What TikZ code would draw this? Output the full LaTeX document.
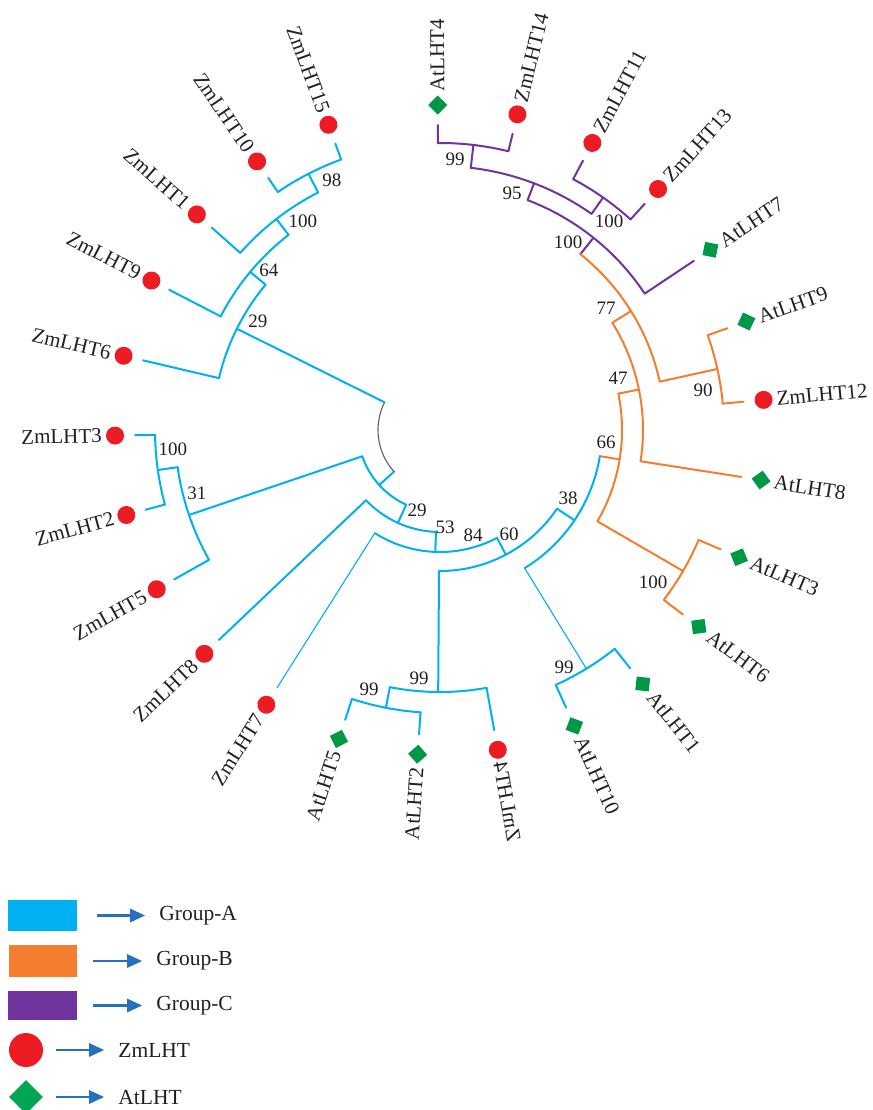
\documentclass[tikz,border=0pt]{standalone}
\usepackage{fontspec}
\setmainfont{Liberation Serif}
\usepackage{xcolor}
\definecolor{grpA}{RGB}{0,176,240}
\definecolor{grpB}{RGB}{244,125,48}
\definecolor{grpC}{RGB}{112,52,156}
\definecolor{zmred}{RGB}{237,28,36}
\definecolor{atgreen}{RGB}{0,152,70}
\definecolor{leggreen}{RGB}{0,166,81}
\definecolor{arrowblue}{RGB}{38,112,190}
\definecolor{rootgray}{RGB}{95,95,95}
\definecolor{ink}{RGB}{35,31,32}
\usepackage{tikz}
\usetikzlibrary{
    shapes.geometric,
    arrows.meta,
    positioning
}
\tikzstyle{lineA} = [draw=grpA, line width=2pt, line cap=round, line join=round]
\tikzstyle{thinA} = [draw=grpA, line width=1.1pt, line cap=round]
\tikzstyle{lineB} = [draw=grpB, line width=2pt, line cap=round, line join=round]
\tikzstyle{lineC} = [draw=grpC, line width=2pt, line cap=round, line join=round]
\tikzstyle{rootline} = [draw=rootgray, line width=1.1pt]
\tikzstyle{zmmark} = [
    circle,
    fill=zmred,
    minimum size=18pt,
    inner sep=0pt
]
\tikzstyle{atmark} = [
    rectangle,
    fill=atgreen,
    minimum size=13.5pt,
    inner sep=0pt
]
\tikzstyle{leaflabel} = [
    text=ink,
    font=\fontsize{21}{23}\selectfont,
    inner sep=1pt
]
\tikzstyle{boot} = [
    text=ink,
    font=\fontsize{19}{20}\selectfont,
    inner sep=0pt
]
\tikzstyle{swatch} = [
    rectangle,
    inner sep=0pt
]
\tikzstyle{legtext} = [
    text=ink,
    font=\fontsize{21.5}{24}\selectfont,
    inner sep=0pt
]
\tikzstyle{legarrow} = [
    draw=arrowblue,
    line width=2.8pt,
    -{Triangle[length=15pt,width=13pt]}
]

% leaf: name, angle, parent radius, line style, marker, text
\newcommand{\leafR}[6]{%
    \draw[#4] (#2:#3) -- (#2:305);
    \node (m#1) [#5, rotate=#2+45] at (#2:325) {};
    \node (t#1) [leaflabel, rotate=#2, anchor=west] at (#2:337) {#6};
}
\newcommand{\leafL}[6]{%
    \draw[#4] (#2:#3) -- (#2:305);
    \node (m#1) [#5, rotate=#2+45] at (#2:325) {};
    \node (t#1) [leaflabel, rotate=#2+180, anchor=east] at (#2:337) {#6};
}
% clade: style, angle, parent radius, radius, first child, last child
\newcommand{\clade}[6]{%
    \draw[#1] (#2:#3) -- (#2:#4);
    \draw[#1] (#5:#4) arc[start angle=#5, end angle=#6, radius=#4pt];
}

\begin{document}
\begin{tikzpicture}[x=1pt, y=1pt]

\useasboundingbox (-440,-680) rectangle (432,430);

% group C
\clade{lineC}{83.31}{264}{287}{90.40}{76.22}
\clade{lineC}{54.95}{264}{284}{62.04}{47.86}
\clade{lineC}{69.13}{246}{264}{83.31}{54.95}
\clade{lineC}{51.40}{225}{246}{69.13}{33.68}

% group B
\clade{lineB}{12.41}{225}{284}{19.50}{5.32}
\clade{lineB}{31.90}{203}{225}{51.40}{12.41}
\clade{lineB}{11.52}{182}{203}{31.90}{-8.86}
\clade{lineB}{-30.13}{182}{281}{-23.04}{-37.22}
\clade{lineB}{-9.30}{162}{182}{11.52}{-30.13}

% group A
\draw[thinA] (-58.49:162) -- (-58.49:280);
\draw[lineA] (-51.40:280) arc[start angle=-51.40, end angle=-65.58, radius=280pt];
\clade{lineA}{-33.90}{141}{162}{-9.30}{-58.49}
\clade{lineA}{-101.03}{262}{283}{-93.94}{-108.12}
\clade{lineA}{-90.40}{141}{262}{-79.76}{-101.03}
\clade{lineA}{-62.15}{122}{141}{-33.90}{-90.40}
\clade{lineA}{-92.23}{102}{122}{-122.30}{-62.15}
\clade{lineA}{-114.35}{82}{102}{-136.48}{-92.23}
\clade{lineA}{-171.93}{265}{285}{-164.84}{-179.02}
\clade{lineA}{-161.30}{82}{265}{-171.93}{-150.66}
\clade{lineA}{-137.83}{62}{82}{-161.30}{-114.35}
\clade{lineA}{-242.83}{267}{288}{-235.74}{-249.92}
\clade{lineA}{-232.20}{247}{267}{-221.56}{-242.83}
\clade{lineA}{-219.79}{227}{247}{-207.38}{-232.20}
\clade{lineA}{-206.50}{62}{227}{-193.20}{-219.79}

% root
\draw[rootline] (-206.50:62) arc[start angle=-206.50, end angle=-137.83, radius=62pt];

\leafR{AtLHT4}{90.40}{287}{lineC}{atmark}{AtLHT4}
\leafR{ZmLHT14}{76.22}{287}{lineC}{zmmark}{ZmLHT14}
\leafR{ZmLHT11}{62.04}{284}{lineC}{zmmark}{ZmLHT11}
\leafR{ZmLHT13}{47.86}{284}{lineC}{zmmark}{ZmLHT13}
\leafR{AtLHT7}{33.68}{246}{lineC}{atmark}{AtLHT7}
\leafR{AtLHT9}{19.50}{284}{lineB}{atmark}{AtLHT9}
\leafR{ZmLHT12}{5.32}{284}{lineB}{zmmark}{ZmLHT12}
\leafR{AtLHT8}{-8.86}{203}{lineB}{atmark}{AtLHT8}
\leafR{AtLHT3}{-23.04}{281}{lineB}{atmark}{AtLHT3}
\leafR{AtLHT6}{-37.22}{281}{lineB}{atmark}{AtLHT6}
\leafR{AtLHT1}{-51.40}{280}{lineA}{atmark}{AtLHT1}
\leafR{AtLHT10}{-65.58}{280}{lineA}{atmark}{AtLHT10}
\draw[lineA] (-79.76:262) -- (-79.76:305);
\node (mZmLHT4) [zmmark] at (-79.76:325) {};
\node (tZmLHT4) [leaflabel, rotate=-79.76, xscale=-1, anchor=east] at (-79.76:336) {ZmLHT4};
\leafL{AtLHT2}{-93.94}{283}{lineA}{atmark}{AtLHT2}
\leafL{AtLHT5}{-108.12}{283}{lineA}{atmark}{AtLHT5}
\leafL{ZmLHT7}{-122.30}{122}{thinA}{zmmark}{ZmLHT7}
\leafL{ZmLHT8}{-136.48}{102}{lineA}{zmmark}{ZmLHT8}
\leafL{ZmLHT5}{-150.66}{265}{lineA}{zmmark}{ZmLHT5}
\leafL{ZmLHT2}{-164.84}{285}{lineA}{zmmark}{ZmLHT2}
\leafL{ZmLHT3}{-179.02}{285}{lineA}{zmmark}{ZmLHT3}
\leafL{ZmLHT6}{-193.20}{227}{lineA}{zmmark}{ZmLHT6}
\leafL{ZmLHT9}{-207.38}{247}{lineA}{zmmark}{ZmLHT9}
\leafL{ZmLHT1}{-221.56}{267}{lineA}{zmmark}{ZmLHT1}
\leafL{ZmLHT10}{-235.74}{288}{lineA}{zmmark}{ZmLHT10}
\leafL{ZmLHT15}{-249.92}{288}{lineA}{zmmark}{ZmLHT15}

% bootstrap values
\node (b99c) [boot] at (15,271) {99};
\node (b95) [boot] at (72,237) {95};
\node (b100a) [boot] at (169,209) {100};
\node (b100b) [boot] at (128,188) {100};
\node (b77) [boot] at (166,122) {77};
\node (b47) [boot] at (178,52) {47};
\node (b90) [boot] at (263,40) {90};
\node (b66) [boot] at (166,-12) {66};
\node (b38) [boot] at (128,-68) {38};
\node (b100c) [boot] at (213,-152) {100};
\node (b99d) [boot] at (124,-237) {99};
\node (b60) [boot] at (69,-104) {60};
\node (b84) [boot] at (33,-105) {84};
\node (b53) [boot] at (5,-97) {53};
\node (b29l) [boot] at (-23,-80) {29};
\node (b99v) [boot] at (-21,-248) {99};
\node (b99b) [boot] at (-71,-259) {99};
\node (b31) [boot] at (-243,-63) {31};
\node (b100d) [boot] at (-267,-19) {100};
\node (b29u) [boot] at (-182,109) {29};
\node (b64) [boot] at (-171,160) {64};
\node (b100e) [boot] at (-137,209) {100};
\node (b98) [boot] at (-108,250) {98};

% legend
\node (swA) [swatch, fill=grpA, minimum width=69pt, minimum height=31pt] at (-397.5,-485.5) {};
\node (swB) [swatch, fill=grpB, minimum width=68pt, minimum height=32pt] at (-397,-531) {};
\node (swC) [swatch, fill=grpC, minimum width=69pt, minimum height=29pt] at (-397.5,-575.5) {};
\node (swZm) [circle, fill=zmred, minimum size=34pt, inner sep=0pt] at (-414,-620) {};
\node (swAt) [diamond, aspect=1, fill=leggreen, minimum size=34pt, inner sep=0pt] at (-414,-667) {};

\node (lgA) [legtext, right=82pt of swA] {Group-A};
\node (lgB) [legtext, right=79pt of swB] {Group-B};
\node (lgC) [legtext, right=79pt of swC] {Group-C};
\node (lgZm) [legtext, right=75pt of swZm] {ZmLHT};
\node (lgAt) [legtext, right=75pt of swAt] {AtLHT};

\draw[legarrow] ([xshift=20pt]swA.east) -- ([xshift=-14pt]swA.east -| lgA.west);
\draw[legarrow] ([xshift=16pt]swB.east) -- ([xshift=-14pt]swB.east -| lgB.west);
\draw[legarrow] ([xshift=16pt]swC.east) -- ([xshift=-14pt]swC.east -| lgC.west);
\draw[legarrow] ([xshift=13pt]swZm.east) -- ([xshift=-14pt]swZm.east -| lgZm.west);
\draw[legarrow] ([xshift=13pt]swAt.east) -- ([xshift=-14pt]swAt.east -| lgAt.west);

\end{tikzpicture}
\end{document}
